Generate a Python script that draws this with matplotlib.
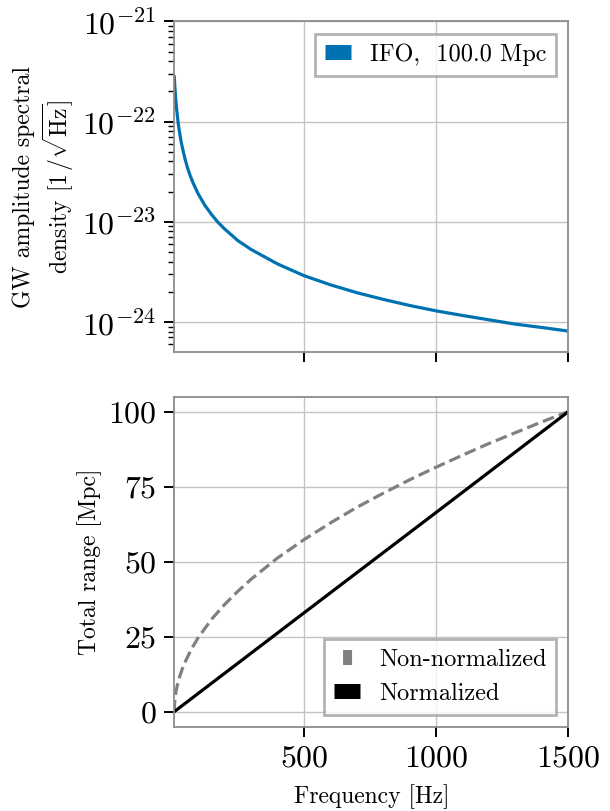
import matplotlib
matplotlib.use("Agg")
import matplotlib.pyplot as plt
from matplotlib.lines import Line2D

# amplitude spectral density
freq_asd = [10, 12, 14, 16, 18, 20, 22, 25, 30, 35, 40, 50, 60, 70, 80, 100, 125, 150, 175,
            200, 250, 300, 400, 500, 600, 700, 800, 900, 1000, 1100, 1200, 1300, 1400, 1500]
asd = [2.8e-22, 2.26e-22, 1.89e-22, 1.62e-22, 1.41e-22, 1.25e-22, 1.12e-22, 9.6e-23, 7.8e-23,
       6.5e-23, 5.6e-23, 4.3e-23, 3.46e-23, 2.9e-23, 2.48e-23, 1.91e-23, 1.47e-23, 1.19e-23,
       9.9e-24, 8.5e-24, 6.5e-24, 5.3e-24, 3.8e-24, 2.9e-24, 2.35e-24, 1.96e-24, 1.68e-24,
       1.46e-24, 1.29e-24, 1.16e-24, 1.05e-24, 9.5e-25, 8.8e-25, 8.1e-25]

# cumulative range
freq_range = [10, 11, 12, 14, 17, 20, 25, 30, 40, 50, 75, 100, 150, 200, 250, 300, 400, 500,
              600, 700, 800, 900, 1000, 1100, 1200, 1300, 1400, 1500]
range_non_normalized = [0, 2.6, 3.7, 5.2, 6.9, 8.2, 10.0, 11.6, 14.2, 16.4, 20.9, 24.6, 30.7,
                        35.7, 40.1, 44.1, 51.2, 57.3, 62.9, 68.1, 72.8, 77.3, 81.5, 85.5, 89.4,
                        93.0, 96.6, 100]
freq_norm = [10, 500, 1000, 1500]
range_normalized = [0, 32.9, 66.4, 100]

asd_label = "IFO,  100.0 Mpc"
range_labels = ["Non-normalized", "Normalized"]

plt.rcParams["font.family"] = "cmr10"
plt.rcParams["mathtext.fontset"] = "cm"
plt.rcParams["axes.formatter.use_mathtext"] = True
plt.rcParams["axes.unicode_minus"] = False

SPINE = "#8c8c8c"
GRID = "#c4c4c4"
BLUE = "#0072b2"
LEG_FS = 17.5
LABEL_FS = 17


def style_axes(ax):
    for sp in ax.spines.values():
        sp.set_color(SPINE)
        sp.set_linewidth(1.3)
    ax.grid(True, which="major", color=GRID, linewidth=1.0)
    ax.set_axisbelow(True)
    ax.tick_params(which="major", direction="out", length=7, width=1.4, color="black",
                   labelsize=23, pad=6)
    ax.tick_params(which="minor", direction="out", length=4, width=1.0, color="black")


def main():
    fig = plt.figure(figsize=(6.1, 8.11), dpi=100)
    ax1 = fig.add_axes([0.2857, 0.5663, 0.6460, 0.4072])
    ax2 = fig.add_axes([0.2857, 0.1040, 0.6460, 0.4069], sharex=ax1)

    # top: ASD
    ax1.plot(freq_asd, asd, color=BLUE, linewidth=2.3)
    ax1.set_yscale("log")
    ax1.set_ylim(5.04e-25, 1e-21)
    ax1.set_xlim(10, 1500)
    ax1.set_xticks([500, 1000, 1500])
    ax1.tick_params(axis="x", labelbottom=False)
    ax1.set_ylabel("GW amplitude spectral\ndensity [$1\\,/\\sqrt{\\mathrm{Hz}}$]",
                   fontsize=LABEL_FS, labelpad=4)
    style_axes(ax1)
    h1 = Line2D([], [], color=BLUE, linewidth=10.8, solid_capstyle="butt")
    leg1 = ax1.legend([h1], [asd_label], loc="upper right", fontsize=LEG_FS, handlelength=1.07,
                      fancybox=False, edgecolor="#a0a0a0", framealpha=0.8)
    leg1.get_frame().set_linewidth(2.0)

    # bottom: range
    ax2.plot(freq_range, range_non_normalized, color="gray", linestyle="--", linewidth=2.3)
    ax2.plot(freq_norm, range_normalized, color="black", linewidth=2.3)
    ax2.set_ylim(-5, 105)
    ax2.set_yticks([0, 25, 50, 75, 100])
    ax2.set_xlabel("Frequency [Hz]", fontsize=LABEL_FS, labelpad=9)
    ax2.set_ylabel("Total range [Mpc]", fontsize=LABEL_FS, labelpad=4)
    style_axes(ax2)
    h_non = Line2D([], [], color="gray", linewidth=10.8, dash_capstyle="butt",
                   linestyle=(2.03, (0.6, 2.0)))
    h_norm = Line2D([], [], color="black", linewidth=10.8, solid_capstyle="butt")
    leg2 = ax2.legend([h_non, h_norm], range_labels, loc="lower right", fontsize=LEG_FS,
                      handlelength=1.07, fancybox=False, edgecolor="#a0a0a0", framealpha=0.8)
    leg2.get_frame().set_linewidth(2.0)

    fig.savefig("out.png", dpi=100)


if __name__ == "__main__":
    main()
